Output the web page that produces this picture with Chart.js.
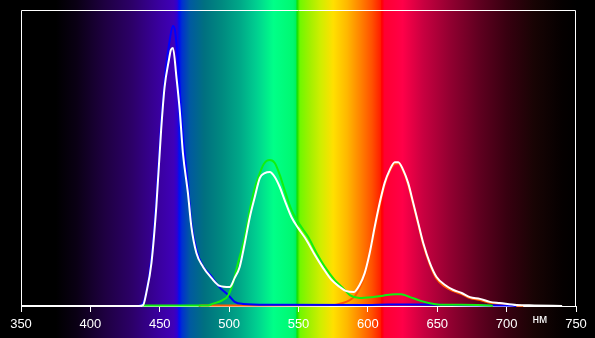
<!DOCTYPE html>
<html>
<head>
<meta charset="utf-8">
<script src="https://cdn.jsdelivr.net/npm/chart.js@4.4.0/dist/chart.umd.min.js"></script>
<style>
  html, body { margin: 0; padding: 0; background: #000; }
  #wrap { width: 595px; height: 338px; }
</style>
</head>
<body>
<div id="wrap"><canvas id="spectrumChart" width="595" height="338"></canvas></div>
<script>
// wavelengths (nm) and relative intensity for each curve
var whiteNm = [350, 435, 438, 440.3, 444, 447.5, 451, 453.5, 456.6, 458, 459.5, 462, 464.4, 466.7, 470.3, 472.8, 476.4, 481.2, 487.2, 493.2,
  500.4, 504, 507.6, 511.3, 514.9, 518.5, 522.1, 525.7, 529.3, 532.9, 536.5, 540, 545, 549.7, 555.7, 561.8, 567.7, 573.8, 579.8, 584,
  590, 594, 597.7, 601.3, 604.9, 608.5, 612.1, 615.7, 619.4, 621.9, 625.5, 629, 632.7, 636.3, 639.9, 644.7, 649.5, 655.6, 661.7, 667.6,
  673.6, 680.8, 688, 695.2, 707.3, 720, 740];
var whiteVals = [0, 0, 0.003, 0.044, 0.145, 0.334, 0.595, 0.74, 0.831, 0.865, 0.872, 0.774, 0.662, 0.517, 0.382, 0.267, 0.179, 0.132, 0.095, 0.068,
  0.064, 0.095, 0.132, 0.213, 0.30, 0.368, 0.432, 0.449, 0.453, 0.436, 0.402, 0.358, 0.30, 0.264, 0.223, 0.172, 0.128, 0.088, 0.064, 0.051,
  0.047, 0.071, 0.111, 0.179, 0.267, 0.348, 0.416, 0.459, 0.486, 0.486, 0.459, 0.416, 0.348, 0.28, 0.213, 0.145, 0.098, 0.071, 0.054, 0.044,
  0.03, 0.024, 0.014, 0.01, 0.003, 0.002, 0];

var blueNm = [435, 438, 440.3, 444, 447.5, 451, 453.5, 456.6, 459.5, 461, 463, 465, 467, 470.3, 472.8, 476.4, 481, 486.5, 493, 500,
  504, 510, 530, 600, 615, 640, 660, 700, 707];
var blueVals = [0, 0.01, 0.047, 0.16, 0.36, 0.62, 0.76, 0.88, 0.946, 0.93, 0.83, 0.68, 0.56, 0.41, 0.28, 0.19, 0.135, 0.105, 0.064, 0.034,
  0.014, 0.007, 0.004, 0.003, 0.005, 0.005, 0.003, 0.002, 0];

var greenNm = [437, 485, 488, 495.4, 499.2, 502.8, 506.4, 511.3, 514.9, 518, 520.8, 525, 529.3, 532.9, 536.5, 540, 545, 551, 557, 563,
  569, 576, 582, 587, 594, 603, 611, 619.5, 624, 630, 637.5, 644.7, 652, 665, 688, 690];
var greenVals = [0.002, 0.002, 0.007, 0.02, 0.035, 0.078, 0.145, 0.233, 0.324, 0.39, 0.432, 0.48, 0.493, 0.483, 0.443, 0.392, 0.324, 0.274, 0.233, 0.179,
  0.132, 0.088, 0.061, 0.037, 0.027, 0.03, 0.035, 0.04, 0.04, 0.031, 0.018, 0.009, 0.0045, 0.004, 0.002, 0];

var redNm = [478, 480, 520, 575, 582, 587, 591, 594, 597.7, 601.3, 604.9, 608.5, 612.1, 615.7, 619.4, 621.9, 625.5, 629, 632.7, 636.3,
  639.9, 644.7, 649.5, 655.6, 661.7, 667.6, 673.6, 680.8, 688, 695.2, 705, 712];
var redVals = [0, 0.002, 0.002, 0.003, 0.01, 0.02, 0.035, 0.06, 0.1, 0.17, 0.26, 0.34, 0.41, 0.455, 0.48, 0.482, 0.455, 0.41, 0.342, 0.275,
  0.207, 0.14, 0.092, 0.065, 0.05, 0.04, 0.027, 0.02, 0.011, 0.007, 0.002, 0];

var tickStep = 50;
var xMin = 350, xMax = 750;
var unitLabel = 'нм';

// background rainbow
var rainbow = [
  [350, '#000000'], [375, '#000000'], [390, '#0a0014'], [410, '#1e0040'], [430, '#2c0068'], [450, '#3a00a0'],
  [460, '#3f00b8'], [462.5, '#3000d0'], [464, '#0010f0'], [466, '#0030d0'], [472, '#005aa0'], [482, '#007080'],
  [495, '#008a80'], [508, '#00a888'], [520, '#00d090'], [532, '#00ff88'], [546, '#00f870'], [548, '#00f060'],
  [549, '#10e000'], [551, '#70f800'], [558, '#a0f000'], [566, '#d0ee00'], [575, '#ffe000'], [585, '#ffb800'],
  [595, '#ff8000'], [603, '#ff5000'], [609, '#ff2000'], [610, '#ff0000'], [612, '#ff0030'], [625, '#ff0048'],
  [640, '#c80040'], [660, '#900030'], [680, '#600020'], [700, '#380010'], [720, '#180404'], [740, '#050000'], [750, '#000000']
];

function pts(xs, ys) {
  return xs.map(function (v, i) { return { x: v, y: ys[i] }; });
}

var spectrumBg = {
  id: 'spectrumBg',
  beforeDraw: function (chart) {
    var ctx = chart.ctx, x = chart.scales.x;
    ctx.save();
    ctx.fillStyle = '#000';
    ctx.fillRect(0, 0, chart.width, chart.height);
    var g = ctx.createLinearGradient(x.getPixelForValue(xMin), 0, x.getPixelForValue(xMax), 0);
    rainbow.forEach(function (s) { g.addColorStop((s[0] - xMin) / (xMax - xMin), s[1]); });
    ctx.fillStyle = g;
    ctx.fillRect(0, 0, chart.width, chart.height);
    ctx.restore();
  },
  beforeDatasetsDraw: function (chart) {
    var ctx = chart.ctx, a = chart.chartArea;
    ctx.save();
    ctx.strokeStyle = '#fff';
    ctx.lineWidth = 1;
    ctx.beginPath();
    ctx.moveTo(a.left + 0.5, a.bottom);
    ctx.lineTo(a.left + 0.5, a.top + 0.5);
    ctx.lineTo(a.right - 0.5, a.top + 0.5);
    ctx.lineTo(a.right - 0.5, a.bottom);
    ctx.stroke();
    ctx.restore();
  },
  afterDraw: function (chart) {
    var ctx = chart.ctx, x = chart.scales.x;
    ctx.save();
    ctx.fillStyle = '#fff';
    ctx.font = '12px "Liberation Sans", Arial, sans-serif';
    ctx.textAlign = 'center';
    ctx.textBaseline = 'alphabetic';
    ctx.fillText(unitLabel, x.getPixelForValue(724), 323);
    ctx.restore();
  }
};

function line(data, color, order) {
  return {
    data: data,
    borderColor: color,
    borderWidth: 2,
    pointRadius: 0,
    fill: false,
    cubicInterpolationMode: 'monotone',
    clip: 3,
    order: order
  };
}

new Chart(document.getElementById('spectrumChart'), {
  type: 'line',
  data: {
    datasets: [
      line(pts(whiteNm, whiteVals), '#ffffff', 0),
      line(pts(greenNm, greenVals), '#10f010', 1),
      line(pts(blueNm, blueVals), '#0000ff', 2),
      line(pts(redNm, redVals), '#ff5a00', 3)
    ]
  },
  options: {
    responsive: false,
    animation: false,
    layout: { padding: { left: 21, right: 19, top: 10, bottom: 0 } },
    plugins: { legend: { display: false }, tooltip: { enabled: false } },
    scales: {
      x: {
        type: 'linear',
        min: xMin,
        max: xMax,
        afterFit: function (scale) { scale.height = 32; },
        ticks: {
          stepSize: tickStep,
          color: '#fff',
          padding: 5,
          maxRotation: 0,
          font: { family: '"Liberation Sans", Arial, sans-serif', size: 13 }
        },
        grid: { drawOnChartArea: false, drawTicks: true, tickLength: 6, color: '#fff' },
        border: { color: '#fff', width: 1 }
      },
      y: { display: false, min: 0, max: 1 }
    }
  },
  plugins: [spectrumBg]
});
</script>
</body>
</html>
